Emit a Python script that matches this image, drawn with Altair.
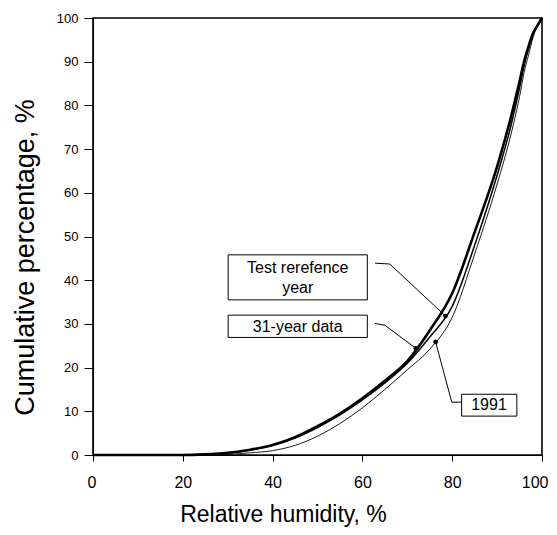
import altair as alt
import pandas as pd

# ---- data ----
rh = [0, 20, 25, 30, 35, 40, 45, 50, 55, 60, 65, 70, 75, 80, 85, 90, 93, 95, 96, 97, 98, 99, 100]
y_31year = [0, 0, 0.15, 0.5, 1.2, 2.3, 4.1, 6.6, 9.5, 13, 17, 21.5, 28.5, 37, 51, 66, 77, 85.5, 90, 93.5, 96.5, 98.3, 100]
y_tref = [0, 0, 0.1, 0.45, 1.15, 2.2, 3.9, 6.3, 9.2, 12.6, 16.5, 21, 27, 34, 48, 64, 75, 84, 89, 93, 96.3, 98.2, 100]
y_1991 = [0, 0, 0, 0.15, 0.5, 1.0, 2.2, 4.3, 7.2, 10.8, 15, 19.5, 24.2, 31.5, 46, 62, 73, 82, 87.5, 91.5, 95.5, 98.3, 100]

series_names = ["31-year data", "Test rerefence year", "1991"]
series_widths = [2.6, 1.5, 0.9]

# annotation boxes (data coordinates)
box_x = [30.1, 30.1, 82.1]
box_x2 = [61.1, 61.1, 94.4]
box_y = [35.5, 26.9, 8.9]
box_y2 = [45.8, 32.0, 13.9]

label_text = ["Test rerefence", "year", "31-year data", "1991"]
label_x = [45.6, 45.6, 45.6, 88.2]
label_y = [41.6, 37.1, 28.2, 10.3]

# leader lines: id, order, x, y
lead_id = [0, 0, 0, 1, 1, 1, 2, 2, 2]
lead_ord = [0, 1, 2, 0, 1, 2, 0, 1, 2]
lead_x = [62.8, 66.1, 78.5, 62.8, 65.0, 71.9, 76.3, 79.9, 82.1]
lead_y = [43.9, 43.7, 31.8, 30.1, 29.7, 24.4, 25.9, 12.1, 12.1]

dot_x = [78.5, 71.9, 76.3]
dot_y = [31.8, 24.4, 25.9]

x_ticks = [0, 20, 40, 60, 80, 100]
y_ticks = [0, 10, 20, 30, 40, 50, 60, 70, 80, 90, 100]

FONT = "Liberation Sans"

rows = []
for name, ys in zip(series_names, [y_31year, y_tref, y_1991]):
    for xv, yv in zip(rh, ys):
        rows.append({"series": name, "x": xv, "y": yv})
curves = pd.DataFrame(rows)

xs = alt.Scale(domain=[0, 100], nice=False, zero=False)
ysc = alt.Scale(domain=[0, 100], nice=False, zero=False)

x_axis = alt.Axis(
    values=x_ticks, title="Relative humidity, %", grid=False,
    labelFontSize=16, labelFont=FONT, labelColor="black",
    labelFlush=True, labelFlushOffset=6,
    tickSize=6, tickColor="black", domainColor="black", labelPadding=13,
    titleFont=FONT, titleFontSize=23, titleFontWeight="normal", titleColor="black",
    titleX=190, titleY=66, titleBaseline="alphabetic", titleAlign="center",
)
y_axis = alt.Axis(
    values=y_ticks, title="Cumulative percentage, %", grid=False,
    labelFontSize=13, labelFont=FONT, labelColor="black",
    tickSize=9, tickColor="black", domainColor="black", labelPadding=6,
    titleFont=FONT, titleFontSize=27, titleFontWeight="normal", titleColor="black",
    titleX=-60, titleY=239, titleBaseline="alphabetic", titleAlign="center", titleAngle=270,
)

X = alt.X("x:Q", scale=xs, axis=x_axis)
Y = alt.Y("y:Q", scale=ysc, axis=y_axis)

layers = []
for name, w in zip(series_names, series_widths):
    layers.append(
        alt.Chart(curves).transform_filter(alt.datum.series == name)
        .mark_line(color="black", strokeWidth=w, interpolate="monotone")
        .encode(x=X, y=Y)
    )

boxes = pd.DataFrame({"x": box_x, "x2": box_x2, "y": box_y, "y2": box_y2})
layers.append(
    alt.Chart(boxes).mark_rect(fill="white", stroke="black", strokeWidth=1)
    .encode(x=X, x2="x2:Q", y=Y, y2="y2:Q")
)

labels = pd.DataFrame({"t": label_text, "x": label_x, "y": label_y})
layers.append(
    alt.Chart(labels).mark_text(font=FONT, fontSize=16, color="black", align="center", baseline="alphabetic")
    .encode(x=X, y=Y, text="t:N")
)

leads = pd.DataFrame({"id": lead_id, "o": lead_ord, "x": lead_x, "y": lead_y})
layers.append(
    alt.Chart(leads).mark_line(color="black", strokeWidth=1)
    .encode(x=X, y=Y, detail="id:N", order="o:Q")
)

dots = pd.DataFrame({"x": dot_x, "y": dot_y})
layers.append(
    alt.Chart(dots).mark_point(filled=True, color="black", size=22, opacity=1)
    .encode(x=X, y=Y)
)

chart = alt.layer(*layers).properties(
    width=449, height=437,
    background="white",
    autosize=alt.AutoSizeParams(type="none"),
    padding={"left": 85, "top": 10, "right": 7, "bottom": 72},
).configure_view(stroke="black", strokeWidth=1.6)

chart.save("out.html", embed_options={"renderer": "svg", "actions": False})
